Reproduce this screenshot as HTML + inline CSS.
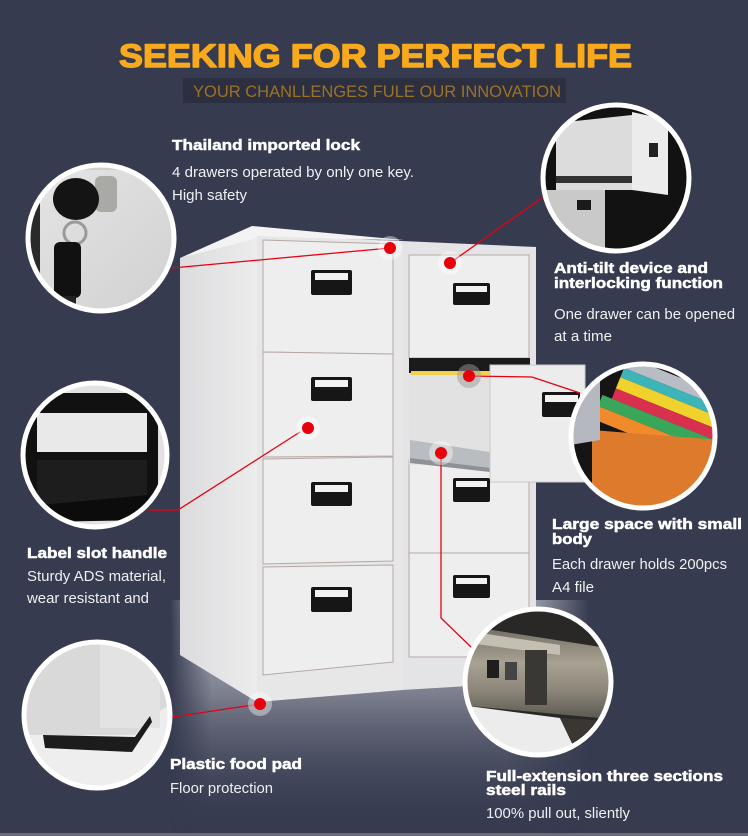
<!DOCTYPE html>
<html><head><meta charset="utf-8"><style>
html,body{margin:0;padding:0;background:#363b50;}
svg{display:block;}
text{font-family:"Liberation Sans",Arial,sans-serif;}
</style></head><body>
<svg width="748" height="836" viewBox="0 0 748 836" xmlns="http://www.w3.org/2000/svg">
<defs>
<linearGradient id="floor" x1="0" y1="0" x2="0" y2="1">
<stop offset="0" stop-color="#d4d5da" stop-opacity="0.95"/>
<stop offset="0.4" stop-color="#9a9ca8" stop-opacity="0.7"/>
<stop offset="1" stop-color="#363b50" stop-opacity="0"/>
</linearGradient>
<linearGradient id="floorx" x1="0" y1="0" x2="1" y2="0">
<stop offset="0" stop-color="#fff" stop-opacity="0"/>
<stop offset="0.1" stop-color="#fff" stop-opacity="1"/>
<stop offset="0.8" stop-color="#fff" stop-opacity="1"/>
<stop offset="1" stop-color="#fff" stop-opacity="0"/>
</linearGradient>
<mask id="fm"><rect x="170" y="600" width="420" height="236" fill="url(#floorx)"/></mask>
<linearGradient id="side" x1="0" y1="0" x2="1" y2="0">
<stop offset="0" stop-color="#dcdcde"/><stop offset="1" stop-color="#ececed"/>
</linearGradient>
<linearGradient id="lockbg" x1="0" y1="0" x2="1" y2="1">
<stop offset="0" stop-color="#e6e6e6"/><stop offset="1" stop-color="#cfcfcf"/>
</linearGradient>
<linearGradient id="metal" x1="0" y1="0" x2="0" y2="1">
<stop offset="0" stop-color="#6e6a60"/><stop offset="0.4" stop-color="#a8a293"/><stop offset="0.7" stop-color="#8a8578"/><stop offset="1" stop-color="#5a564e"/>
</linearGradient>
<clipPath id="c1"><circle cx="101" cy="238" r="73"/></clipPath>
<clipPath id="c2"><circle cx="95" cy="455" r="72"/></clipPath>
<clipPath id="c3"><circle cx="97" cy="715" r="73"/></clipPath>
<clipPath id="c4"><circle cx="616" cy="178" r="73"/></clipPath>
<clipPath id="c5"><circle cx="643" cy="436" r="72"/></clipPath>
<clipPath id="c6"><circle cx="538" cy="682" r="73"/></clipPath>
</defs>

<rect width="748" height="836" fill="#363b50"/>
<rect x="0" y="833" width="748" height="3" fill="#6a6c76"/>

<!-- floor reflection -->
<g mask="url(#fm)"><rect x="170" y="600" width="420" height="236" fill="url(#floor)"/></g>

<!-- Title -->
<text x="119" y="67" font-size="32" font-weight="bold" fill="#f8a91c" stroke="#f8a91c" stroke-width="1.4" stroke-linejoin="round" textLength="513" lengthAdjust="spacingAndGlyphs">SEEKING FOR PERFECT LIFE</text>
<rect x="183" y="78" width="383" height="25" fill="#2b2f40"/>
<text x="193" y="97" font-size="17" fill="#9e7226" textLength="368" lengthAdjust="spacingAndGlyphs">YOUR CHANLLENGES FULE OUR INNOVATION</text>

<!-- Left cabinet -->
<polygon points="180,258 257,236 257,702 180,655" fill="url(#side)"/>
<polygon points="180,258 252,226 404,240 258,238" fill="#f3f3f3"/>
<polygon points="257,236 403,241 403,690 257,702" fill="#e7e7e8"/>
<g fill="#eeeeee" stroke="#b5a8a4" stroke-width="1">
<polygon points="263,240 393,244 393,354 263,352"/>
<polygon points="263,352 393,354 393,456 263,457"/>
<polygon points="263,459 393,457 393,561 263,564"/>
<polygon points="263,567 393,565 393,662 263,675"/>
</g>
<!-- Right cabinet -->
<polygon points="402,241 536,247 536,682 402,690" fill="#e4e4e6"/>
<g fill="#eeeeee" stroke="#b5a8a4" stroke-width="1">
<rect x="409" y="255" width="120" height="103"/>
<rect x="409" y="460" width="120" height="93"/>
<rect x="409" y="553" width="120" height="104"/>
</g>
<rect x="409" y="358" width="121" height="16" fill="#1b1b1c"/>
<!-- open drawer -->
<polygon points="409,373 490,375 490,462 409,465" fill="#e2e2e3"/>
<rect x="411" y="371" width="79" height="4" fill="#f3d14a"/>
<polygon points="410,440 490,452 490,470 410,460" fill="#b9bcc0"/>
<polygon points="410,458 490,468 490,472 410,463" fill="#8e9196"/>
<rect x="490" y="365" width="95" height="117" fill="#ececec" stroke="#c9c9c9" stroke-width="1"/>

<!-- handles -->
<g>
<rect x="311" y="270" width="41" height="25" rx="2" fill="#161616"/><rect x="315" y="273" width="33" height="7" fill="#f2f2f2"/>
<rect x="311" y="377" width="41" height="24" rx="2" fill="#161616"/><rect x="315" y="380" width="33" height="7" fill="#f2f2f2"/>
<rect x="311" y="482" width="41" height="24" rx="2" fill="#161616"/><rect x="315" y="485" width="33" height="7" fill="#f2f2f2"/>
<rect x="311" y="587" width="41" height="25" rx="2" fill="#161616"/><rect x="315" y="590" width="33" height="7" fill="#f2f2f2"/>
<rect x="453" y="283" width="37" height="22" rx="2" fill="#161616"/><rect x="456" y="286" width="31" height="6" fill="#f2f2f2"/>
<rect x="453" y="478" width="37" height="24" rx="2" fill="#161616"/><rect x="456" y="481" width="31" height="6" fill="#f2f2f2"/>
<rect x="453" y="575" width="37" height="23" rx="2" fill="#161616"/><rect x="456" y="578" width="31" height="6" fill="#f2f2f2"/>
<rect x="542" y="392" width="38" height="25" rx="2" fill="#161616"/><rect x="545" y="395" width="33" height="7" fill="#f2f2f2"/>
</g>

<!-- connector lines -->
<g stroke="#e60012" stroke-width="1.3" fill="none">
<polyline points="172,268 390,248"/>
<polyline points="450,263 546,195"/>
<polyline points="147,510 178,510 300,432"/>
<polyline points="469,376 532,377 580,393"/>
<polyline points="441,453 441,618 472,648"/>
<polyline points="172,717 260,704"/>
</g>

<!-- dots -->
<g>
<circle cx="390" cy="248" r="12" fill="#fff" fill-opacity="0.4"/><circle cx="390" cy="248" r="6" fill="#e8000b"/>
<circle cx="450" cy="263" r="12" fill="#fff" fill-opacity="0.4"/><circle cx="450" cy="263" r="6" fill="#e8000b"/>
<circle cx="308" cy="428" r="12" fill="#fff" fill-opacity="0.4"/><circle cx="308" cy="428" r="6" fill="#e8000b"/>
<circle cx="469" cy="376" r="12" fill="#999" fill-opacity="0.5"/><circle cx="469" cy="376" r="6" fill="#e8000b"/>
<circle cx="441" cy="453" r="12" fill="#fff" fill-opacity="0.4"/><circle cx="441" cy="453" r="6" fill="#e8000b"/>
<circle cx="260" cy="704" r="12" fill="#fff" fill-opacity="0.4"/><circle cx="260" cy="704" r="6" fill="#e8000b"/>
</g>

<!-- Circle 1: lock -->
<g clip-path="url(#c1)">
<rect x="20" y="160" width="170" height="160" fill="url(#lockbg)"/>
<rect x="20" y="195" width="20" height="110" fill="#2a2a2a"/>
<rect x="40" y="160" width="150" height="10" fill="#cfcfcf"/>
<rect x="95" y="176" width="22" height="36" rx="6" fill="#a9a9a6"/>
<ellipse cx="76" cy="199" rx="23" ry="21" fill="#141414"/>
<circle cx="75" cy="233" r="11" fill="none" stroke="#9a9a9a" stroke-width="3"/>
<rect x="54" y="242" width="27" height="56" rx="6" fill="#111"/>
<rect x="60" y="296" width="16" height="10" fill="#222"/>
</g>
<circle cx="101" cy="238" r="73" fill="none" stroke="#fff" stroke-width="5"/>

<!-- Circle 2: handle -->
<g clip-path="url(#c2)">
<rect x="15" y="375" width="160" height="160" fill="#e2e2e2"/>
<rect x="25" y="393" width="133" height="127" rx="4" fill="#111"/>
<rect x="37" y="413" width="110" height="39" fill="#e9e9e9"/>
<rect x="37" y="460" width="110" height="50" fill="#1d1d1d"/>
<polygon points="40,505 148,495 150,520 40,522" fill="#0c0c0c"/>
</g>
<circle cx="95" cy="455" r="72" fill="none" stroke="#fff" stroke-width="5"/>

<!-- Circle 3: foot -->
<g clip-path="url(#c3)">
<rect x="20" y="638" width="160" height="160" fill="#eeeeee"/>
<polygon points="20,638 180,638 180,700 150,716 135,735 20,735" fill="#d9d9d9"/>
<rect x="100" y="638" width="60" height="90" fill="#e3e3e3"/>
<polygon points="43,735 135,737 150,716 152,722 132,752 45,748" fill="#1c1c1c"/>
</g>
<circle cx="97" cy="715" r="73" fill="none" stroke="#fff" stroke-width="5"/>

<!-- Circle 4: drawer -->
<g clip-path="url(#c4)">
<rect x="540" y="102" width="155" height="155" fill="#121212"/>
<polygon points="556,123 632,115 632,190 556,190" fill="#dcdcdc"/>
<rect x="556" y="176" width="76" height="7" fill="#333"/>
<polygon points="632,112 668,120 668,195 632,190" fill="#ececec"/>
<rect x="649" y="143" width="9" height="14" fill="#222"/>
<rect x="540" y="190" width="65" height="68" fill="#c9c9c9"/>
<rect x="577" y="200" width="14" height="10" fill="#1a1a1a"/>
</g>
<circle cx="616" cy="178" r="73" fill="none" stroke="#fff" stroke-width="5"/>

<!-- Circle 5: files -->
<g clip-path="url(#c5)">
<rect x="565" y="360" width="160" height="155" fill="#151515"/>
<g transform="rotate(22 643 436)">
<rect x="570" y="368" width="170" height="12" fill="#b8bcc4"/>
<rect x="600" y="380" width="150" height="10" fill="#3db4b8"/>
<rect x="600" y="390" width="150" height="12" fill="#f0d22c"/>
<rect x="600" y="402" width="150" height="11" fill="#d8304e"/>
<rect x="590" y="413" width="160" height="12" fill="#3aa65a"/>
<rect x="580" y="425" width="170" height="14" fill="#f08a2a"/>
</g>
<polygon points="592,430 720,440 720,515 592,515" fill="#dd7a2c"/>
<polygon points="570,372 600,380 600,440 570,445" fill="#b5b8bf"/>
</g>
<circle cx="643" cy="436" r="72" fill="none" stroke="#fff" stroke-width="5"/>

<!-- Circle 6: rails -->
<g clip-path="url(#c6)">
<rect x="460" y="605" width="160" height="155" fill="#2a2826"/>
<polygon points="460,625 620,650 620,720 460,705" fill="url(#metal)"/>
<polygon points="460,630 560,645 560,655 460,642" fill="#c3bfb3"/>
<rect x="487" y="660" width="12" height="18" fill="#1e1e1e"/>
<rect x="505" y="662" width="12" height="18" fill="#444"/>
<rect x="525" y="650" width="22" height="55" fill="#3a3834"/>
<polygon points="460,705 560,718 580,760 460,760" fill="#ececec"/>
<polygon points="560,718 620,722 620,760 580,760" fill="#3a3733"/>
</g>
<circle cx="538" cy="682" r="73" fill="none" stroke="#fff" stroke-width="5"/>

<!-- Texts -->
<g fill="#ffffff">
<g stroke="#ffffff" stroke-width="0.5">
<text x="172" y="150" font-size="15" font-weight="bold" textLength="188" lengthAdjust="spacingAndGlyphs">Thailand imported lock</text>
<text x="554" y="273" font-size="15" font-weight="bold" textLength="154" lengthAdjust="spacingAndGlyphs">Anti-tilt device and</text>
<text x="554" y="288" font-size="15" font-weight="bold" textLength="169" lengthAdjust="spacingAndGlyphs">interlocking function</text>
<text x="552" y="529" font-size="15" font-weight="bold" textLength="190" lengthAdjust="spacingAndGlyphs">Large space with small</text>
<text x="552" y="544" font-size="15" font-weight="bold" textLength="40" lengthAdjust="spacingAndGlyphs">body</text>
<text x="27" y="558" font-size="15" font-weight="bold" textLength="140" lengthAdjust="spacingAndGlyphs">Label slot handle</text>
<text x="170" y="769" font-size="15" font-weight="bold" textLength="132" lengthAdjust="spacingAndGlyphs">Plastic food pad</text>
<text x="486" y="781" font-size="15" font-weight="bold" textLength="237" lengthAdjust="spacingAndGlyphs">Full-extension three sections</text>
<text x="486" y="795" font-size="15" font-weight="bold" textLength="80" lengthAdjust="spacingAndGlyphs">steel rails</text>
</g>
<text x="172" y="177" font-size="15" fill="#f0f0f0" textLength="242" lengthAdjust="spacingAndGlyphs">4 drawers operated by only one key.</text>
<text x="172" y="200" font-size="15" fill="#f0f0f0" textLength="75" lengthAdjust="spacingAndGlyphs">High safety</text>
<text x="554" y="319" font-size="15" fill="#f0f0f0" textLength="181" lengthAdjust="spacingAndGlyphs">One drawer can be opened</text>
<text x="554" y="341" font-size="15" fill="#f0f0f0" textLength="58" lengthAdjust="spacingAndGlyphs">at a time</text>
<text x="552" y="569" font-size="15" fill="#f0f0f0" textLength="175" lengthAdjust="spacingAndGlyphs">Each drawer holds 200pcs</text>
<text x="552" y="592" font-size="15" fill="#f0f0f0" textLength="42" lengthAdjust="spacingAndGlyphs">A4 file</text>
<text x="27" y="581" font-size="15" fill="#f0f0f0" textLength="139" lengthAdjust="spacingAndGlyphs">Sturdy ADS material,</text>
<text x="27" y="603" font-size="15" fill="#f0f0f0" textLength="122" lengthAdjust="spacingAndGlyphs">wear resistant and</text>
<text x="170" y="793" font-size="15" fill="#f0f0f0" textLength="103" lengthAdjust="spacingAndGlyphs">Floor protection</text>
<text x="486" y="818" font-size="15" fill="#f0f0f0" textLength="144" lengthAdjust="spacingAndGlyphs">100% pull out, sliently</text>
</g>
</svg>
</body></html>
